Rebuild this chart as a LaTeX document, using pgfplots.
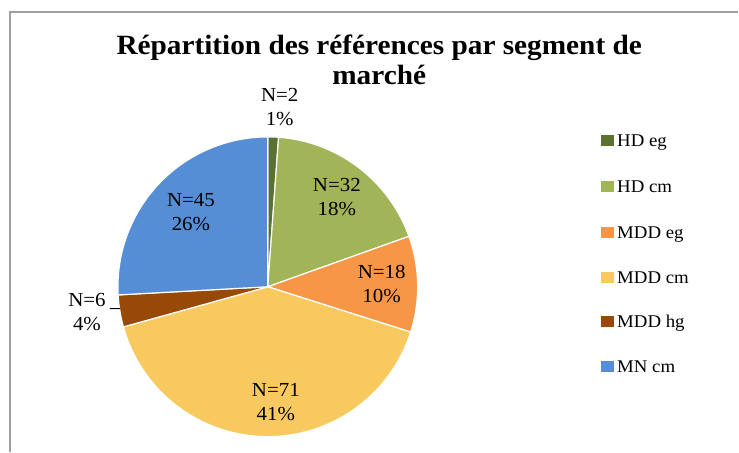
\documentclass[border=0pt]{standalone}
\usepackage{pgfplots}
\pgfplotsset{compat=1.18}
\usepgfplotslibrary{polar}
\usepackage{pgfplotstable}
\usepackage{fontspec}
\setmainfont{Liberation Serif}[FakeStretch=1.05]

\definecolor{cA}{HTML}{5A7130}
\definecolor{cB}{HTML}{A1B458}
\definecolor{cC}{HTML}{F79646}
\definecolor{cD}{HTML}{F8C95F}
\definecolor{cE}{HTML}{984807}
\definecolor{cF}{HTML}{568ED5}

\pgfplotstableread{
name value
HDeg 2
HDcm 32
MDDeg 18
MDDcm 71
MDDhg 6
MNcm 45
}\piedata

\begin{document}
\begin{tikzpicture}[x=1bp,y=1bp]
\pgfplotstablegetelem{0}{value}\of\piedata \let\vA\pgfplotsretval
\pgfplotstablegetelem{1}{value}\of\piedata \let\vB\pgfplotsretval
\pgfplotstablegetelem{2}{value}\of\piedata \let\vC\pgfplotsretval
\pgfplotstablegetelem{3}{value}\of\piedata \let\vD\pgfplotsretval
\pgfplotstablegetelem{4}{value}\of\piedata \let\vE\pgfplotsretval
\pgfplotstablegetelem{5}{value}\of\piedata \let\vF\pgfplotsretval
\pgfmathsetmacro\tot{\vA+\vB+\vC+\vD+\vE+\vF}
\pgfmathsetmacro\bA{450}
\pgfmathsetmacro\bB{\bA-\vA/\tot*360}
\pgfmathsetmacro\bC{\bB-\vB/\tot*360}
\pgfmathsetmacro\bD{\bC-\vC/\tot*360}
\pgfmathsetmacro\bE{\bD-\vD/\tot*360}
\pgfmathsetmacro\bF{\bE-\vE/\tot*360}
\pgfmathsetmacro\bG{\bF-\vF/\tot*360}

\path (0,0) rectangle (739,452);
\draw[gray!75, line width=1.2bp] (10,0) -- (10,440) -- (739,440);

\begin{polaraxis}[at={(268bp,165bp)}, anchor=center, scale only axis,
  width=300bp, height=300bp, hide axis, xmin=0, xmax=360, ymin=0, ymax=150,
  clip=false]
\addplot[fill=cA, draw=white, line width=1.2bp, domain=\bB:\bA, samples=5] {150} -- (axis cs:0,0) -- cycle;
\addplot[fill=cB, draw=white, line width=1.2bp, domain=\bC:\bB, samples=40] {150} -- (axis cs:0,0) -- cycle;
\addplot[fill=cC, draw=white, line width=1.2bp, domain=\bD:\bC, samples=30] {150} -- (axis cs:0,0) -- cycle;
\addplot[fill=cD, draw=white, line width=1.2bp, domain=\bE:\bD, samples=80] {150} -- (axis cs:0,0) -- cycle;
\addplot[fill=cE, draw=white, line width=1.2bp, domain=\bF:\bE, samples=8] {150} -- (axis cs:0,0) -- cycle;
\addplot[fill=cF, draw=white, line width=1.2bp, domain=\bG:\bF, samples=50] {150} -- (axis cs:0,0) -- cycle;

\begin{scope}[every node/.style={font=\fontsize{20}{24}\selectfont, align=center, text=black}]
\node at (axis cs:86.2,180.4) {N=2\\1\%};
\node at (axis cs:52.5,113.5) {N=32\\18\%};
\node at (axis cs:1.5,114) {N=18\\10\%};
\node at (axis cs:-86,116) {N=71\\41\%};
\node at (axis cs:-172.1,182.7) {N=6\\4\%};
\node at (axis cs:135.7,107.5) {N=45\\26\%};
\end{scope}
\draw[black, line width=1bp] (axis cs:187.9,159.5) -- (axis cs:188.45,149.6);
\end{polaraxis}

\node[anchor=base, font=\fontsize{28}{30}\selectfont\bfseries] at (379.5,397) {Répartition des références par segment de};
\node[anchor=base, font=\fontsize{28}{30}\selectfont\bfseries] at (379.5,367) {marché};

\foreach \c/\t/\y in {cA/HD eg/140.5, cB/HD cm/187, cC/MDD eg/233, cD/MDD cm/277.5, cE/MDD hg/322, cF/MN cm/367} {
  \fill[\c] (601,452-\y-5.5) rectangle (614,452-\y+5.5);
  \node[anchor=base west, inner sep=0pt, font=\fontsize{18}{20}\selectfont] at (617.5,452-\y-6) {\t};
}
\end{tikzpicture}
\end{document}
